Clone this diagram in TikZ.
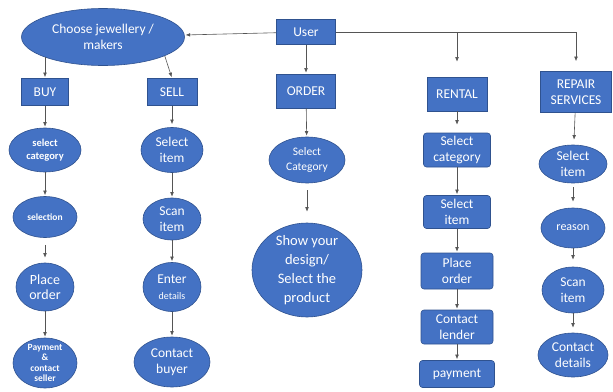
\documentclass[tikz,border=0pt]{standalone}
\usepackage{fontspec}
\setmainfont{Carlito}
\usepackage{xcolor}
\definecolor{flowblue}{RGB}{68,114,196}
\definecolor{flowedge}{RGB}{47,82,143}
\definecolor{flowline}{RGB}{85,85,85}
\usetikzlibrary{positioning,arrows.meta,shapes.geometric}

\begin{document}
\begin{tikzpicture}[x=1pt, y=-1pt,
  font=\fontsize{13.5}{16}\selectfont,
  box/.style={draw=flowedge, fill=flowblue, text=white, align=center, inner sep=0pt, line width=0.6pt},
  oval/.style={ellipse, draw=flowedge, fill=flowblue, text=white, align=center, inner xsep=0pt, inner ysep=-2pt, line width=0.6pt},
  step box/.style={box, rounded corners=3pt},
  arrow/.style={-{Latex[length=1.6mm,width=1.3mm]}, flowline, line width=0.6pt, shorten >=1pt}]
  \useasboundingbox (0,0) rectangle (613,391);
  % top row
  \node[oval, minimum width=163pt, minimum height=57pt] (choose) at (103,37) {Choose jewellery /\\makers};
  \node[box, minimum width=59pt, minimum height=25pt] (user) at (306,32) {User};
  \node[box, minimum width=47pt, minimum height=27pt] (buy) at (45,92) {BUY};
  \node[box, minimum width=50pt, minimum height=27pt] (sell) at (172,92) {SELL};
  \node[box, minimum width=59pt, minimum height=34pt] (order) at (306,91) {ORDER};
  \node[box, minimum width=60pt, minimum height=34pt] (rental) at (457,94) {RENTAL};
  \node[box, minimum width=71pt, minimum height=41pt] (repair) at (576,92) {REPAIR\\SERVICES};
  % buy
  \node[oval, minimum width=72pt, minimum height=44pt, font=\fontsize{10.5}{12.5}\selectfont\bfseries] (bcat) at (45,150) {select\\category};
  \node[oval, minimum width=64pt, minimum height=41pt, font=\fontsize{9.5}{11}\selectfont\bfseries] (bsel) at (45,217) {selection};
  \node[oval, minimum width=58pt, minimum height=48pt, font=\fontsize{14}{15}\selectfont] (bplace) at (45,287) {Place\\order};
  \node[oval, minimum width=64pt, minimum height=50pt, inner ysep=-5pt, font=\fontsize{9.5}{10.5}\selectfont\bfseries] (bpay) at (45,363) {Payment\\\&\\contact\\seller};
  % sell
  \node[oval, minimum width=62pt, minimum height=45pt] (sitem) at (172,150) {Select\\item};
  \node[oval, minimum width=58pt, minimum height=42pt] (sscan) at (172,219) {Scan\\item};
  \node[oval, minimum width=58pt, minimum height=49pt] (senter) at (172,287) {Enter\\{\fontsize{10}{12}\selectfont details}};
  \node[oval, minimum width=76pt, minimum height=50pt] (sbuyer) at (172,362) {Contact\\buyer};
  % order
  \node[oval, minimum width=76pt, minimum height=46pt, font=\fontsize{11.5}{14.5}\selectfont] (ocat) at (307,160) {Select\\Category};
  \node[oval, minimum width=110pt, minimum height=94pt, inner ysep=-3pt, font=\fontsize{14.5}{19}\selectfont] (oshow) at (307,270) {Show your\\design/\\Select the\\product};
  % rental
  \node[step box, minimum width=67pt, minimum height=34pt] (rcat) at (457,150) {Select\\category};
  \node[step box, minimum width=67pt, minimum height=33pt] (ritem) at (457,212) {Select\\item};
  \node[step box, minimum width=72pt, minimum height=36pt] (rplace) at (457,271) {Place\\order};
  \node[step box, minimum width=72pt, minimum height=34pt] (rlend) at (457,327) {Contact\\lender};
  \node[step box, minimum width=75pt, minimum height=27pt] (rpay) at (457,374) {payment};
  % repair
  \node[oval, minimum width=68pt, minimum height=38pt] (pitem) at (573,164) {Select\\item};
  \node[oval, minimum width=64pt, minimum height=40pt, font=\fontsize{12}{14}\selectfont] (preason) at (573,228) {reason};
  \node[oval, minimum width=62pt, minimum height=46pt] (pscan) at (573,290) {Scan\\item};
  \node[oval, minimum width=70pt, minimum height=44pt] (pcont) at (573,355) {Contact\\details};

  \draw[arrow] (user) -- (choose);
  \draw[arrow] (buy.north |- choose.199) -- (buy);
  \draw[arrow] (choose.343) -- (sell.north);
  \draw[arrow] (user) -- (order);
  \coordinate (fork) at (user.east -| rental.north);
  \draw[arrow, shorten >=10pt] (user.east) -| (repair.north);
  \draw[arrow, shorten >=15pt] (fork) -- (rental.north);
  \foreach \a/\b in {buy/bcat, bcat/bsel, bplace/bpay, sitem/sscan, sscan/senter, senter/sbuyer,
    order/ocat, rcat/ritem, ritem/rplace, rplace/rlend, rlend/rpay}
    \draw[arrow] (\a) -- (\b);
  \draw[arrow, shorten <=7pt, shorten >=5pt] (bsel) -- (bplace);
  \draw[arrow, shorten >=3pt] (sell) -- (sitem);
  \draw[arrow, shorten <=7pt, shorten >=11pt] (ocat) -- (oshow);
  \draw[arrow, shorten >=8pt] (rental) -- (rcat);
  \draw[arrow, shorten >=5pt] (repair) -- (pitem);
  \draw[arrow, shorten <=4pt, shorten >=6pt] (pitem) -- (preason);
  \draw[arrow, shorten >=7pt] (preason) -- (pscan);
  \draw[arrow, shorten >=5pt] (pscan) -- (pcont);
\end{tikzpicture}
\end{document}
